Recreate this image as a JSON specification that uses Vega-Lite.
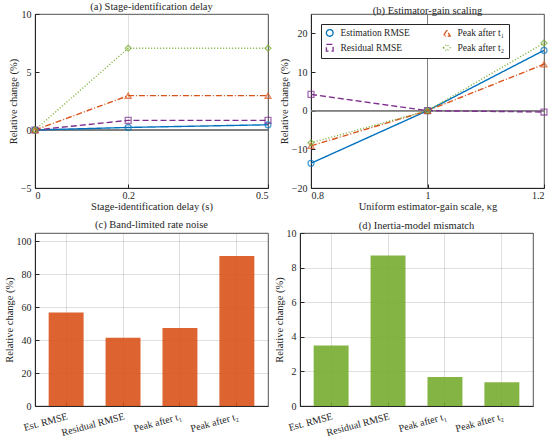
{
  "$schema": "https://vega.github.io/schema/vega-lite/v6.json",
  "background": "white",
  "padding": {"left": 3, "top": 1, "right": 0, "bottom": 0},
  "config": {
    "font": "Liberation Serif",
    "view": {"stroke": "#262626", "strokeWidth": 0.8},
    "axis": {
      "labelFont": "Liberation Serif",
      "titleFont": "Liberation Serif",
      "labelFontSize": 10,
      "titleFontSize": 10.5,
      "titleFontWeight": "normal",
      "labelColor": "#262626",
      "titleColor": "#262626",
      "domainColor": "#262626",
      "tickColor": "#262626",
      "gridColor": "#262626",
      "gridOpacity": 0.15,
      "tickSize": -4,
      "labelPadding": 8,
      "titlePadding": 2,
      "zindex": 1
    },
    "axisX": {"labelPadding": 6, "titlePadding": 1},
    "title": {"font": "Liberation Serif", "fontSize": 10.5, "fontWeight": "normal", "color": "#262626", "offset": 3},
    "legend": {"labelFont": "Liberation Serif", "labelFontSize": 9.5, "labelColor": "#262626"}
  },
  "datasets": {
    "a": [
      {"x": 0, "v": 0, "s": "Estimation RMSE"},
      {"x": 0.2, "v": 0.22, "s": "Estimation RMSE"},
      {"x": 0.5, "v": 0.45, "s": "Estimation RMSE"},
      {"x": 0, "v": 0, "s": "Residual RMSE"},
      {"x": 0.2, "v": 0.83, "s": "Residual RMSE"},
      {"x": 0.5, "v": 0.83, "s": "Residual RMSE"},
      {"x": 0, "v": 0, "s": "Peak after t₁"},
      {"x": 0.2, "v": 2.96, "s": "Peak after t₁"},
      {"x": 0.5, "v": 2.96, "s": "Peak after t₁"},
      {"x": 0, "v": 0, "s": "Peak after t₂"},
      {"x": 0.2, "v": 7.05, "s": "Peak after t₂"},
      {"x": 0.5, "v": 7.05, "s": "Peak after t₂"}
    ],
    "b": [
      {"x": 0.8, "v": -13.6, "s": "Estimation RMSE"},
      {"x": 1, "v": 0, "s": "Estimation RMSE"},
      {"x": 1.2, "v": 15.6, "s": "Estimation RMSE"},
      {"x": 0.8, "v": 4.2, "s": "Residual RMSE"},
      {"x": 1, "v": 0, "s": "Residual RMSE"},
      {"x": 1.2, "v": -0.35, "s": "Residual RMSE"},
      {"x": 0.8, "v": -9.1, "s": "Peak after t₁"},
      {"x": 1, "v": 0, "s": "Peak after t₁"},
      {"x": 1.2, "v": 12.0, "s": "Peak after t₁"},
      {"x": 0.8, "v": -8.3, "s": "Peak after t₂"},
      {"x": 1, "v": 0, "s": "Peak after t₂"},
      {"x": 1.2, "v": 17.5, "s": "Peak after t₂"}
    ],
    "c": [
      {"m": "Est. RMSE", "v": 56.8},
      {"m": "Residual RMSE", "v": 41.4},
      {"m": "Peak after t₁", "v": 47.3},
      {"m": "Peak after t₂", "v": 91.1}
    ],
    "d": [
      {"m": "Est. RMSE", "v": 3.5},
      {"m": "Residual RMSE", "v": 8.7},
      {"m": "Peak after t₁", "v": 1.67},
      {"m": "Peak after t₂", "v": 1.38}
    ]
  },
  "spacing": 7,
  "vconcat": [
    {
      "spacing": 4,
      "resolve": {"scale": {"color": "independent", "stroke": "independent", "strokeDash": "independent", "shape": "independent"}, "legend": {"color": "independent", "stroke": "independent", "strokeDash": "independent", "shape": "independent"}},
      "hconcat": [
        {
          "width": 233,
          "height": 174,
          "title": {"text": "(a) Stage-identification delay", "offset": -3},
          "data": {"name": "a"},
          "layer": [
            {
              "mark": {"type": "rule", "color": "#808080", "strokeWidth": 0.8},
              "encoding": {"y": {"datum": 0, "type": "quantitative"}}
            },
            {
              "mark": {"type": "line", "strokeWidth": 1.4},
              "encoding": {
                "x": {"field": "x", "type": "quantitative", "scale": {"domain": [0, 0.5], "nice": false, "zero": false}, "axis": {"values": [0, 0.2, 0.5], "format": "~g", "title": "Stage-identification delay (s)"}},
                "y": {"field": "v", "type": "quantitative", "scale": {"domain": [-5, 10], "nice": false}, "axis": {"values": [-5, 0, 5, 10], "title": "Relative change (%)"}},
                "color": {"field": "s", "type": "nominal", "scale": {"domain": ["Estimation RMSE", "Residual RMSE", "Peak after t₁", "Peak after t₂"], "range": ["#0072BD", "#7E2F8E", "#D95319", "#77AC30"]}, "legend": null},
                "strokeDash": {"field": "s", "type": "nominal", "scale": {"domain": ["Estimation RMSE", "Residual RMSE", "Peak after t₁", "Peak after t₂"], "range": [[1, 0], [6, 3], [6, 2, 1, 2], [1, 2]]}, "legend": null}
              }
            },
            {
              "mark": {"type": "point", "filled": false, "size": 35, "strokeWidth": 1.3},
              "encoding": {
                "x": {"field": "x", "type": "quantitative"},
                "y": {"field": "v", "type": "quantitative"},
                "stroke": {"field": "s", "type": "nominal", "scale": {"domain": ["Estimation RMSE", "Residual RMSE", "Peak after t₁", "Peak after t₂"], "range": ["#0072BD", "#7E2F8E", "#D95319", "#77AC30"]}, "legend": null},
                "shape": {"field": "s", "type": "nominal", "scale": {"domain": ["Estimation RMSE", "Residual RMSE", "Peak after t₁", "Peak after t₂"], "range": ["circle", "square", "triangle-up", "diamond"]}, "legend": null}
              }
            }
          ]
        },
        {
          "width": 233,
          "height": 174,
          "title": {"text": "(b) Estimator-gain scaling", "offset": -3},
          "data": {"name": "b"},
          "layer": [
            {
              "mark": {"type": "rule", "color": "#808080", "strokeWidth": 0.8},
              "encoding": {"y": {"datum": 0, "type": "quantitative"}}
            },
            {
              "mark": {"type": "rule", "color": "#808080", "strokeWidth": 0.8},
              "encoding": {"x": {"datum": 1, "type": "quantitative"}}
            },
            {
              "mark": {"type": "line", "strokeWidth": 1.4},
              "encoding": {
                "x": {"field": "x", "type": "quantitative", "scale": {"domain": [0.8, 1.2], "nice": false, "zero": false}, "axis": {"values": [0.8, 1, 1.2], "format": "~g", "title": "Uniform estimator-gain scale, κg"}},
                "y": {"field": "v", "type": "quantitative", "scale": {"domain": [-20, 25], "nice": false}, "axis": {"values": [-20, -15, -10, -5, 0, 5, 10, 15, 20, 25], "title": "Relative change (%)"}},
                "color": {
                  "field": "s", "type": "nominal",
                  "scale": {"domain": ["Estimation RMSE", "Residual RMSE", "Peak after t₁", "Peak after t₂"], "range": ["#0072BD", "#7E2F8E", "#D95319", "#77AC30"]},
                  "legend": {
                    "title": null, "orient": "top-left", "offset": 10, "columns": 2,
                    "strokeColor": "#262626", "fillColor": "white", "padding": 4,
                    "rowPadding": 2, "columnPadding": 30, "symbolSize": 45, "labelOffset": 6,
                    "symbolStrokeWidth": 1.3
                  }
                },
                "strokeDash": {"field": "s", "type": "nominal", "scale": {"domain": ["Estimation RMSE", "Residual RMSE", "Peak after t₁", "Peak after t₂"], "range": [[1, 0], [6, 3], [6, 2, 1, 2], [1, 2]]}, "legend": null}
              }
            },
            {
              "mark": {"type": "point", "filled": false, "size": 35, "strokeWidth": 1.3},
              "encoding": {
                "x": {"field": "x", "type": "quantitative"},
                "y": {"field": "v", "type": "quantitative"},
                "stroke": {"field": "s", "type": "nominal", "scale": {"domain": ["Estimation RMSE", "Residual RMSE", "Peak after t₁", "Peak after t₂"], "range": ["#0072BD", "#7E2F8E", "#D95319", "#77AC30"]}, "legend": null},
                "shape": {"field": "s", "type": "nominal", "scale": {"domain": ["Estimation RMSE", "Residual RMSE", "Peak after t₁", "Peak after t₂"], "range": ["circle", "square", "triangle-up", "diamond"]}, "legend": null}
              }
            }
          ]
        }
      ]
    },
    {
      "spacing": 4,
      "hconcat": [
        {
          "width": 233,
          "height": 173,
          "title": {"text": "(c) Band-limited rate noise", "offset": 3},
          "data": {"name": "c"},
          "mark": {"type": "bar", "color": "#D95319", "opacity": 0.9},
          "encoding": {
            "x": {"field": "m", "type": "nominal", "sort": null, "scale": {"paddingInner": 0.386, "paddingOuter": 0.24}, "axis": {"title": null, "labelAngle": -15, "labelAlign": "right", "labelBaseline": "top", "grid": true, "labelPadding": 9}},
            "y": {"field": "v", "type": "quantitative", "scale": {"domain": [0, 105], "nice": false}, "axis": {"values": [0, 20, 40, 60, 80, 100], "title": "Relative change (%)"}}
          }
        },
        {
          "width": 233,
          "height": 173,
          "title": {"text": "(d) Inertia-model mismatch", "offset": -3},
          "data": {"name": "d"},
          "mark": {"type": "bar", "color": "#77AC30", "opacity": 0.9},
          "encoding": {
            "x": {"field": "m", "type": "nominal", "sort": null, "scale": {"paddingInner": 0.386, "paddingOuter": 0.24}, "axis": {"title": null, "labelAngle": -15, "labelAlign": "right", "labelBaseline": "top", "grid": true, "labelPadding": 9}},
            "y": {"field": "v", "type": "quantitative", "scale": {"domain": [0, 10], "nice": false}, "axis": {"values": [0, 2, 4, 6, 8, 10], "title": "Relative change (%)"}}
          }
        }
      ]
    }
  ]
}
